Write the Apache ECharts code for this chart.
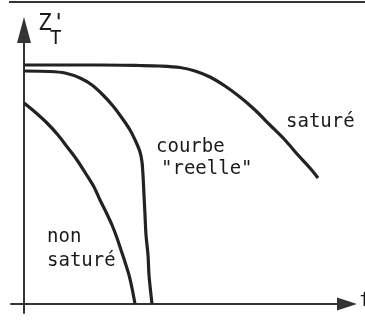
<!DOCTYPE html>
<html>
<head>
<meta charset="utf-8">
<script src="https://cdn.jsdelivr.net/npm/echarts@6/dist/echarts.min.js"></script>
<style>
  html, body { margin: 0; padding: 0; background: #fff; }
  #main { width: 365px; height: 323px; }
</style>
</head>
<body>
<div id="main"></div>
<script>
// courbes (unités arbitraires : f horizontal, Z'T vertical)
var sature = [[0, 239], [36, 239], [76, 239], [116, 238.5], [136, 238], [156, 236.5],
  [171, 233], [186, 227], [201, 218], [216, 207], [231, 194], [246, 179], [261, 164],
  [274, 149], [286, 136], [294, 126]];
var reelle = [[0, 233], [26, 232.5], [41, 231], [56, 226], [68, 219], [79, 209], [89, 198],
  [98, 186], [106, 174], [112, 162], [116, 152], [118, 142], [119, 129], [120, 109],
  [121, 89], [122, 69], [124, 49], [125, 29], [127, 9], [128, 0]];
var nonSature = [[0, 201], [11, 192], [23, 181], [34, 169], [44, 156], [53, 144], [62, 130],
  [70, 117], [76, 104], [82, 92], [88, 79], [93, 66], [97, 54], [101, 42], [105, 29],
  [108, 16], [111, 0]];

var ink = '#222';
var fontMono = '"DejaVu Sans Mono", "Liberation Mono", monospace';

var chart = echarts.init(document.getElementById('main'));

function courbe(name, data) {
  return {
    name: name,
    type: 'line',
    data: data,
    smooth: 0.3,
    showSymbol: false,
    symbol: 'none',
    lineStyle: { color: ink, width: 3.2 },
    silent: true
  };
}

function texte(x, y, s, size) {
  return {
    type: 'text',
    left: x,
    top: y,
    style: { text: s, font: (size || 19) + 'px ' + fontMono, fill: '#1a1a1a' }
  };
}

chart.setOption({
  animation: false,
  backgroundColor: '#fff',
  grid: { left: 11, right: 18, top: 30, bottom: 10 },
  xAxis: {
    type: 'value',
    min: -13,
    max: 323,
    axisLine: {
      show: true,
      onZero: true,
      symbol: ['none', 'triangle'],
      symbolSize: [13, 20],
      lineStyle: { color: '#333', width: 2 }
    },
    axisTick: { show: false },
    axisLabel: { show: false },
    splitLine: { show: false }
  },
  yAxis: {
    type: 'value',
    min: -9,
    max: 274,
    axisLine: {
      show: true,
      onZero: true,
      symbol: ['none', 'triangle'],
      symbolSize: [14, 26],
      lineStyle: { color: '#333', width: 2 }
    },
    axisTick: { show: false },
    axisLabel: { show: false },
    splitLine: { show: false }
  },
  series: [
    courbe('saturé', sature),
    courbe('courbe "reelle"', reelle),
    courbe('non saturé', nonSature)
  ],
  graphic: [
    { type: 'line', shape: { x1: 9, y1: 2, x2: 365, y2: 2 }, style: { stroke: '#333', lineWidth: 2 } },
    texte(38, 13, "Z'", 23),
    texte(50, 30, 'T', 19),
    texte(286, 113, 'saturé'),
    texte(156, 138, 'courbe'),
    texte(161, 160, '"reelle"'),
    texte(47, 228, 'non'),
    texte(47, 252, 'saturé'),
    texte(359, 292, 'f', 19)
  ]
});
</script>
</body>
</html>
